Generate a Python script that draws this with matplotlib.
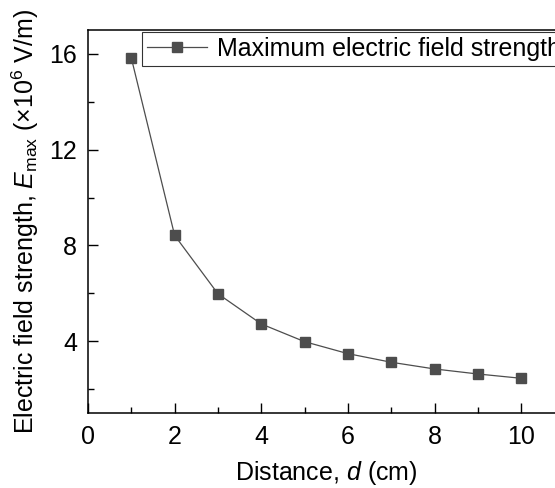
import matplotlib
matplotlib.use("Agg")
import matplotlib.pyplot as plt
from matplotlib.ticker import MultipleLocator

plt.rcParams['font.family'] = ['Liberation Sans', 'DejaVu Sans']
plt.rcParams['mathtext.fontset'] = 'custom'
plt.rcParams['mathtext.rm'] = 'Liberation Sans'
plt.rcParams['mathtext.it'] = 'Liberation Sans:italic'

# data
distance = [1, 2, 3, 4, 5, 6, 7, 8, 9, 10]
e_max = [15.83, 8.42, 5.98, 4.72, 3.98, 3.48, 3.12, 2.84, 2.63, 2.45]

color = '#4d4d4d'
fs = 18

fig = plt.figure(figsize=(5.55, 4.88), dpi=100)
ax = fig.add_axes([0.1586, 0.1537, 0.8584, 0.7848])

ax.plot(distance, e_max, '-s', color=color, lw=0.9, markersize=6.5,
        markerfacecolor=color, markeredgecolor=color,
        label='Maximum electric field strength')

ax.set_xlim(0, 11)
ax.set_ylim(1, 17)
ax.xaxis.set_major_locator(MultipleLocator(2))
ax.xaxis.set_minor_locator(MultipleLocator(1))
ax.yaxis.set_major_locator(MultipleLocator(4))
ax.yaxis.set_minor_locator(MultipleLocator(2))
ax.tick_params(which='both', direction='in', labelsize=fs)
ax.tick_params(axis='x', pad=9)
ax.tick_params(axis='y', pad=8)
ax.tick_params(which='major', length=7, width=1)
ax.tick_params(which='minor', length=4, width=1)

for s in ax.spines.values():
    s.set_linewidth(1.1)

ax.set_xlabel('Distance, $d$ (cm)', fontsize=fs, labelpad=7)
ax.set_ylabel('Electric field strength, $E_{\\mathrm{max}}$ (×10$^{6}$ V/m)',
              fontsize=fs, labelpad=6)

leg = ax.legend(loc='upper left', bbox_to_anchor=(0.113, 0.995), fontsize=fs,
                frameon=True, fancybox=False, edgecolor='black',
                handlelength=2.4, handletextpad=0.4, borderpad=0.2,
                borderaxespad=0)
leg.get_frame().set_linewidth(0.8)

fig.savefig('out.png', dpi=100)
